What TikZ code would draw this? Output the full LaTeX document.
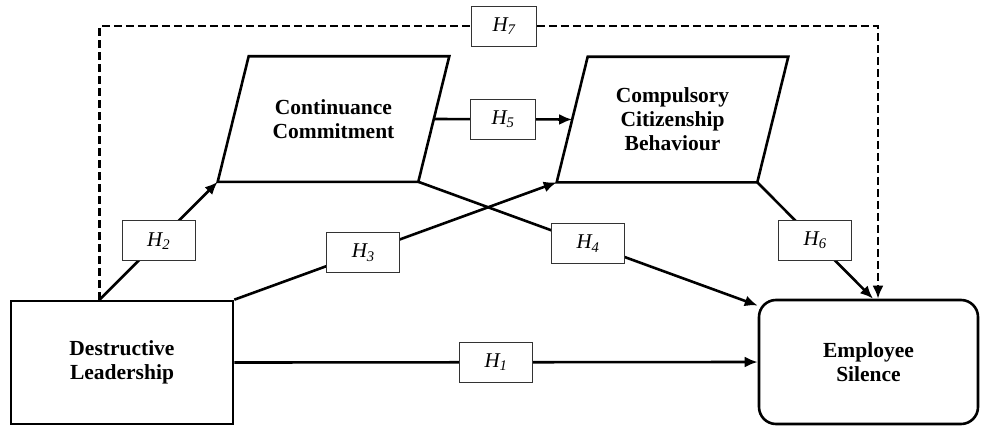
\documentclass[tikz,border=0pt]{standalone}
\usepackage{fontspec}
\setmainfont{Liberation Serif}
\usetikzlibrary{arrows.meta,calc}

\begin{document}
\begin{tikzpicture}[x=1pt,y=-1pt,
  var/.style={draw,line width=2.6pt,align=center,inner sep=0pt,font=\fontsize{21.5}{24}\selectfont\bfseries},
  paratext/.style={var,draw=none,minimum width=198pt,minimum height=123pt},
  hyp/.style={draw=black!80,line width=0.9pt,fill=white,minimum width=73pt,minimum height=40pt,
    inner sep=0pt,font=\fontsize{21}{24}\selectfont\itshape},
  link/.style={line width=2.6pt,-{Latex[length=13pt,width=11pt]}},
  dashlink/.style={line width=2.6pt,dash pattern=on 8pt off 4pt}]
\useasboundingbox (0,0) rectangle (981,428);
\node[var,minimum width=222pt,minimum height=123pt] (dl) at (122,362.5) {Destructive\\Leadership};
\node[var,rounded corners=17pt,minimum width=219pt,minimum height=124pt] (es) at (868.5,362) {Employee\\Silence};
\node[paratext] (ccom) at (333.5,119) {Continuance\\Commitment};
\node[paratext] (ccb) at (672.5,119.5) {Compulsory\\Citizenship\\Behaviour};
\foreach \p in {ccom,ccb}{
  \draw[line width=2.6pt] ($(\p.south west)+(-15.5,0)$) coordinate (\p-bl)
    -- ($(\p.north west)+(15.5,0)$) -- ($(\p.north east)+(15.5,0)$)
    -- ($(\p.south east)+(-15.5,0)$) coordinate (\p-br) -- cycle;
}
\coordinate (split) at ($(dl.north west)!0.4!(dl.north east)$);
\coordinate (h6end) at ($(es.north)+(4.5,0)$);
\coordinate (h7end) at ($(es.north)+(9.5,0)$);
\draw[link] (split) -- (ccom-bl) node[hyp,pos=.5] (h2) {H\textsubscript{2}};
\draw[link] (dl.north east) -- (ccb-bl) node[hyp,pos=.4] (h3) {H\textsubscript{3}};
\draw[link] (ccom-br) -- (es.153) node[hyp,pos=.5] (h4) {H\textsubscript{4}};
\draw[link] (ccom.east) -- (ccb.west) node[hyp,minimum width=65pt,pos=.5] (h5) {H\textsubscript{5}};
\draw[link] (ccb-br) -- (h6end) node[hyp,pos=.5] (h6) {H\textsubscript{6}};
\draw[link] (dl.east) -- (es.west) node[hyp,pos=.5] (h1) {H\textsubscript{1}};
\node[hyp,minimum width=65pt] (h7) at (504,26) {H\textsubscript{7}};
\draw[dashlink] (split) |- (h7.west);
\draw[dashlink,-{Latex[length=13pt,width=11pt]}] (h7.east) -| (h7end);
\end{tikzpicture}
\end{document}
